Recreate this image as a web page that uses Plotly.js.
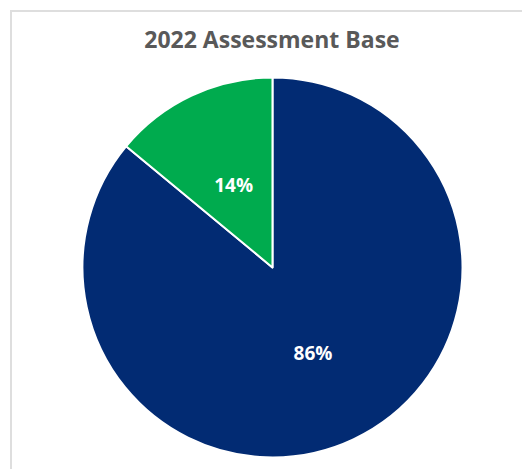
<!DOCTYPE html>
<html>
<head>
<meta charset="utf-8">
<script src="https://cdn.plot.ly/plotly-3.0.1.min.js"></script>
<style>
  html, body { margin: 0; padding: 0; background: #ffffff; }
  #wrap { position: relative; width: 522px; height: 469px; overflow: hidden; }
  #chart { position: absolute; left: 0; top: 0; width: 522px; height: 469px; }
  #frame { position: absolute; left: 10px; top: 10px; width: 540px; height: 500px;
           border-top: 2px solid #dedede; border-left: 2px solid #dedede; pointer-events: none; }
</style>
</head>
<body>
<div id="wrap">
  <div id="chart"></div>
  <div id="frame"></div>
</div>
<script>
const categories = ["Category A", "Category B"];
const values = [86, 14];
const sliceColors = ["#022b73", "#00ab4e"];
const chartTitle = "2022 Assessment Base";

const labelFont = { family: "Open Sans, sans-serif", size: 19, color: "#ffffff", weight: "bold" };

const data = [{
  type: "pie",
  labels: categories,
  values: values,
  sort: false,
  direction: "clockwise",
  rotation: 0,
  marker: { colors: sliceColors, line: { color: "#ffffff", width: 2 } },
  texttemplate: ["%{percent:.0%}", ""],
  textposition: "inside",
  insidetextorientation: "horizontal",
  textfont: labelFont,
  domain: { x: [0.158, 0.886], y: [0.0235, 0.836] },
  hoverinfo: "label+percent",
  showlegend: false
}, {
  // transparent helper ring used only to place the small slice's label nearer the centre
  type: "pie",
  labels: categories,
  values: values,
  sort: false,
  direction: "clockwise",
  rotation: 0,
  marker: { colors: ["rgba(0,0,0,0)", "rgba(0,0,0,0)"], line: { width: 0 } },
  texttemplate: ["", "%{percent:.0%}"],
  textposition: "inside",
  insidetextorientation: "horizontal",
  textfont: labelFont,
  domain: { x: [0.273, 0.771], y: [0.1525, 0.7068] },
  hoverinfo: "skip",
  showlegend: false
}];

const layout = {
  width: 522,
  height: 469,
  margin: { l: 0, r: 0, t: 0, b: 0 },
  paper_bgcolor: "#ffffff",
  showlegend: false,
  title: {
    text: "<b>" + chartTitle + "</b>",
    x: 0.521,
    xanchor: "center",
    y: 0.914,
    yanchor: "middle",
    font: { family: "Open Sans, sans-serif", size: 23, color: "#595959" }
  }
};

Plotly.newPlot("chart", data, layout, { displayModeBar: false, staticPlot: true });
</script>
</body>
</html>
